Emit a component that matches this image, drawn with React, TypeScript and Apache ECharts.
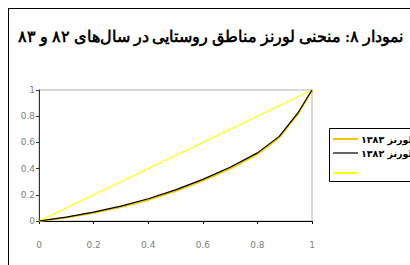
import React, { useEffect, useRef } from "react";
import * as echarts from "echarts";

const titleText = "نمودار ۸: منحنی لورنز مناطق روستایی در سال‌های ۸۲ و ۸۳";
const seriesNames = ["لورنز ۱۳۸۳", "لورنز ۱۳۸۲", " "];
const populationShare = [0, 0.1, 0.2, 0.3, 0.4, 0.5, 0.6, 0.7, 0.8, 0.88, 0.95, 1];
const lorenz1383 = [0, 0.026, 0.062, 0.106, 0.161, 0.228, 0.308, 0.4, 0.51, 0.638, 0.822, 1];
const lorenz1382 = [0, 0.03, 0.068, 0.113, 0.17, 0.238, 0.318, 0.41, 0.52, 0.646, 0.83, 1];
const equalityX = [0, 1];
const equalityY = [0, 1];
const axisTicks = [0, 0.2, 0.4, 0.6, 0.8, 1];

const OFF = 9;
const W = 440;

export default function App() {
  const ref = useRef<HTMLDivElement>(null);
  useEffect(() => {
    const chart = echarts.init(ref.current!, null, { renderer: "svg" });
    const pts = (xs: number[], ys: number[]) => xs.map((x, i) => [x, ys[i]]);
    const fmt = (v: number) => (axisTicks.includes(v) ? String(Math.round(v * 10) / 10) : "");
    const colors = ["#F5C400", "#000000", "#FFFF00"];
    chart.setOption({
      animation: false,
      grid: {
        left: 39 - OFF,
        top: 90 - OFF,
        width: 273,
        height: 131,
        show: true,
        borderColor: "#b0b0b0",
        borderWidth: 1,
        backgroundColor: "#fff",
      },
      xAxis: {
        type: "value",
        min: 0,
        max: 1,
        interval: 0.2,
        splitLine: { show: false },
        axisLine: { lineStyle: { color: "#000", width: 1 } },
        axisTick: { show: true, length: 3, lineStyle: { color: "#000" } },
        axisLabel: { formatter: fmt, margin: 19, color: "#808080", fontSize: 9, fontFamily: "DejaVu Sans" },
      },
      yAxis: {
        type: "value",
        min: 0,
        max: 1,
        interval: 0.2,
        splitLine: { show: false },
        axisLine: { show: true, lineStyle: { color: "#333", width: 1 } },
        axisTick: { show: true, length: 3, lineStyle: { color: "#333" } },
        axisLabel: { formatter: fmt, margin: 4, color: "#808080", fontSize: 9, fontFamily: "DejaVu Sans" },
      },
      series: [
        {
          name: seriesNames[0],
          type: "line",
          data: pts(populationShare, lorenz1383),
          showSymbol: false,
          lineStyle: { color: colors[0], width: 2 },
          z: 2,
        },
        {
          name: seriesNames[1],
          type: "line",
          data: pts(populationShare, lorenz1382),
          showSymbol: false,
          lineStyle: { color: colors[1], width: 1.2 },
          z: 3,
        },
        {
          name: seriesNames[2],
          type: "line",
          data: pts(equalityX, equalityY),
          showSymbol: false,
          lineStyle: { color: colors[2], width: 1.2 },
          z: 2,
        },
      ],
      graphic: [
        {
          type: "text",
          right: W - (403 - OFF),
          top: 28 - 9,
          style: {
            text: titleText,
            fontFamily: "Liberation Serif, DejaVu Serif, serif",
            fontWeight: "bold",
            fontSize: 15.5,
            fill: "#000",
          },
        },
        {
          type: "rect",
          shape: { x: 329 - OFF + 0.5, y: 128 - OFF + 0.5, width: 120, height: 53 },
          style: { fill: "#fff", stroke: "#000", lineWidth: 1 },
        },
        ...[139, 153, 173].map((y, i) => ({
          type: "line",
          shape: { x1: 333 - OFF, y1: y - OFF, x2: 358 - OFF, y2: y - OFF },
          style: { stroke: colors[i], lineWidth: i === 1 ? 1.2 : 2 },
        })),
        ...[139, 153].map((y, i) => ({
          type: "text",
          x: 361 - OFF,
          y: y - OFF,
          style: {
            text: seriesNames[i],
            fontFamily: "DejaVu Sans",
            fontWeight: "bold",
            fontSize: 9.5,
            fill: "#000",
            verticalAlign: "middle",
            align: "left",
          },
        })),
      ],
    });
    return () => chart.dispose();
  }, []);
  return (
    <div style={{ position: "fixed", left: 0, top: 0, width: 410, height: 265, overflow: "hidden", background: "#fff" }}>
      <div
        style={{
          position: "absolute",
          left: 8,
          top: 8,
          width: W,
          height: 280,
          borderLeft: "1px solid #000",
          borderTop: "1px solid #000",
        }}
      >
        <div ref={ref} style={{ width: W, height: 280 }} />
      </div>
    </div>
  );
}
